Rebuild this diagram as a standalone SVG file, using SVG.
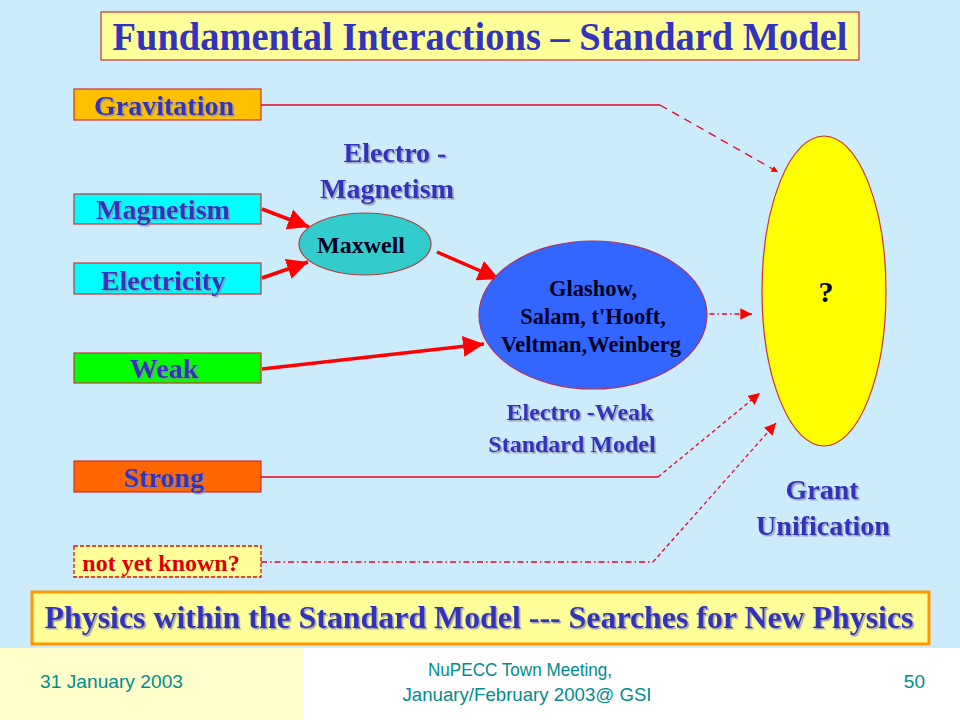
<svg xmlns="http://www.w3.org/2000/svg" width="960" height="720" viewBox="0 0 960 720">
<defs>
<style>
.lbl{font-family:"Liberation Serif","Times New Roman",serif;font-weight:bold;fill:#3333BB;text-anchor:middle}
.big{font-size:28px}
.blk{font-family:"Liberation Serif","Times New Roman",serif;font-weight:bold;fill:#000022;text-anchor:middle}
.box{stroke:#CC3333;stroke-width:1.2}
.foot{font-family:"Liberation Sans",Arial,sans-serif;fill:#008C8C;font-size:19px}
.thick{stroke:#FF0000;stroke-width:3.5;fill:none}
.thin{stroke:#E8002A;stroke-width:1.3;fill:none}
</style>
<filter id="sh" x="-10%" y="-20%" width="130%" height="150%">
<feDropShadow dx="1.5" dy="1.5" stdDeviation="0.6" flood-color="#8888AA" flood-opacity="0.8"/>
</filter>
<marker id="big" viewBox="0 0 10 10" refX="10" refY="5" markerWidth="6" markerHeight="6" markerUnits="strokeWidth" orient="auto">
<path d="M0,0 L10,5 L0,10 z" fill="#FF0000"/>
</marker>
<marker id="small" viewBox="0 0 10 10" refX="10" refY="5" markerWidth="9" markerHeight="9" markerUnits="strokeWidth" orient="auto">
<path d="M0,0 L10,5 L0,10 z" fill="#FF0000"/>
</marker>
<marker id="small2" viewBox="0 0 10 10" refX="10" refY="5" markerWidth="5" markerHeight="5" markerUnits="strokeWidth" orient="auto">
<path d="M0,0 L10,5 L0,10 z" fill="#FF0000"/>
</marker>
</defs>
<rect x="0" y="0" width="960" height="720" fill="#CCEBFB"/>
<rect x="0" y="648" width="960" height="72" fill="#FFFFFF"/>
<rect x="0" y="648" width="303" height="72" fill="#FFFFCC"/>

<g id="title">
<rect x="101" y="12" width="758" height="48" fill="#FFFF99" class="box"/>
<text x="480" y="50" class="lbl" font-size="39" textLength="735" lengthAdjust="spacingAndGlyphs">Fundamental Interactions – Standard Model</text>
</g>

<g id="connectors">
<path d="M261,105 L660,105" class="thin"/>
<path d="M660,105 L778,172" class="thin" stroke-width="2.2" stroke-dasharray="8,6" marker-end="url(#small2)"/>
<path d="M262,209 L309,227" class="thick" marker-end="url(#big)"/>
<path d="M262,278 L308,262" class="thick" marker-end="url(#big)"/>
<path d="M437,252 L499,279" class="thick" marker-end="url(#big)"/>
<path d="M262,369 L484,344" class="thick" marker-end="url(#big)"/>
<path d="M697,314 L752,314" class="thin" stroke-width="1.6" stroke-dasharray="5,3,1.5,3" marker-end="url(#small)"/>
<path d="M261,477 L658,477" class="thin"/>
<path d="M658,477 L760,393" class="thin" stroke-dasharray="4,3" marker-end="url(#small)"/>
<path d="M261,562 L653,562" class="thin" stroke-width="1.6" stroke-dasharray="6,3,1.5,3"/>
<path d="M653,562 L776,423" class="thin" stroke-dasharray="4,3" marker-end="url(#small)"/>
</g>

<g id="gravitation">
<rect x="74" y="89" width="187" height="31" fill="#FFC000" class="box"/>
<text x="164" y="115" class="lbl big" filter="url(#sh)">Gravitation</text>
</g>
<g id="magnetism">
<rect x="74" y="194" width="187" height="30" fill="#00FFFF" class="box"/>
<text x="163" y="219" class="lbl big" filter="url(#sh)">Magnetism</text>
</g>
<g id="electricity">
<rect x="74" y="263" width="187" height="31" fill="#00FFFF" class="box"/>
<text x="163" y="290" class="lbl big" filter="url(#sh)">Electricity</text>
</g>
<g id="weak">
<rect x="74" y="353" width="187" height="30" fill="#00FF00" class="box"/>
<text x="164" y="378" class="lbl big" filter="url(#sh)">Weak</text>
</g>
<g id="strong">
<rect x="74" y="461" width="187" height="31" fill="#FF6600" class="box"/>
<text x="164" y="487" class="lbl big" filter="url(#sh)">Strong</text>
</g>
<g id="notyetknown">
<rect x="74" y="546" width="187" height="31" fill="#FFFF99" stroke="#DD1111" stroke-width="1.3" stroke-dasharray="4,2"/>
<text x="161" y="571" class="blk" font-size="24" style="fill:#DD0000">not yet known?</text>
</g>

<g id="em-label">
<text x="395" y="162" class="lbl big" filter="url(#sh)">Electro -</text>
<text x="387" y="198" class="lbl big" filter="url(#sh)">Magnetism</text>
</g>
<g id="maxwell">
<ellipse cx="365" cy="244" rx="66" ry="31" fill="#33CCCC" stroke="#AA4444" stroke-width="1.2"/>
<text x="361" y="253" class="blk" font-size="24">Maxwell</text>
</g>
<g id="electroweak">
<ellipse cx="593" cy="315" rx="114" ry="74" fill="#3366FF" stroke="#AA3366" stroke-width="1.2"/>
<text x="593" y="296" class="blk" font-size="22.5">Glashow,</text>
<text x="593" y="324" class="blk" font-size="22.5">Salam, t'Hooft,</text>
<text x="591" y="352" class="blk" font-size="22.5">Veltman,Weinberg</text>
</g>
<g id="ew-label">
<text x="580" y="420" class="lbl" font-size="24" filter="url(#sh)">Electro -Weak</text>
<text x="572" y="452" class="lbl" font-size="24" filter="url(#sh)">Standard Model</text>
</g>
<g id="unification">
<ellipse cx="824" cy="291" rx="62" ry="155" fill="#FFFF00" stroke="#CC3333" stroke-width="1.2"/>
<text x="826" y="302" class="blk" font-size="30">?</text>
</g>
<g id="gu-label">
<text x="822" y="499" class="lbl big" filter="url(#sh)">Grant</text>
<text x="823" y="535" class="lbl big" filter="url(#sh)">Unification</text>
</g>

<g id="banner">
<rect x="32" y="592" width="897" height="52" fill="#FFFF99" stroke="#FF9900" stroke-width="3"/>
<text x="479" y="628" class="lbl" font-size="32" textLength="869" lengthAdjust="spacingAndGlyphs" filter="url(#sh)">Physics within the Standard Model --- Searches for New Physics</text>
</g>

<g id="footer">
<text x="40" y="688" class="foot" textLength="143" lengthAdjust="spacingAndGlyphs">31 January 2003</text>
<text x="520" y="676" class="foot" text-anchor="middle" textLength="184" lengthAdjust="spacingAndGlyphs">NuPECC Town Meeting,</text>
<text x="527" y="701" class="foot" text-anchor="middle" textLength="249" lengthAdjust="spacingAndGlyphs">January/February 2003@ GSI</text>
<text x="925" y="688" class="foot" text-anchor="end">50</text>
</g>
</svg>
